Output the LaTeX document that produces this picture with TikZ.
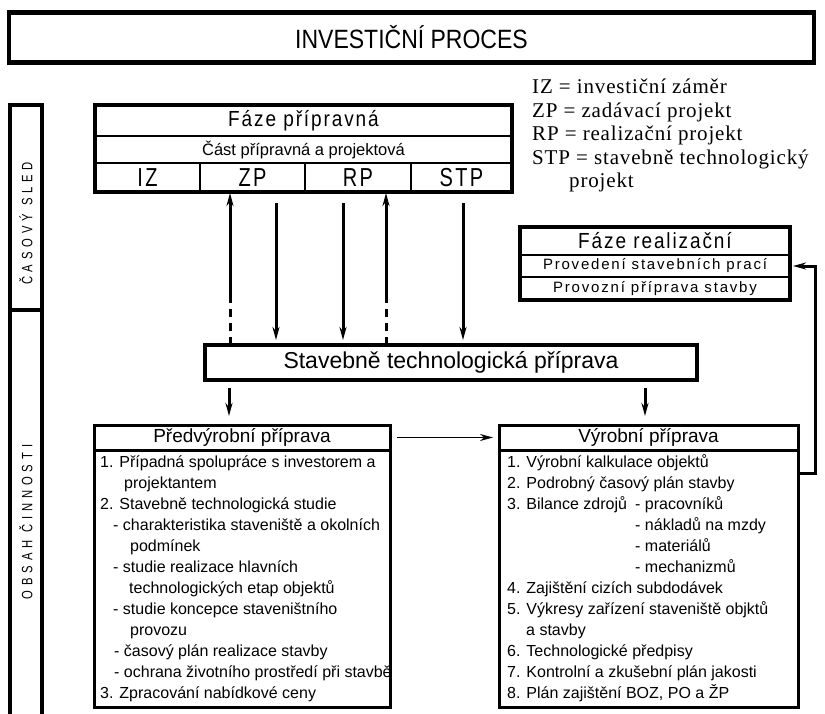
\documentclass[tikz,border=0pt]{standalone}
\usepackage{fontspec}
\setmainfont{Liberation Sans}
\newfontfamily\legendfont[LetterSpace=4]{Liberation Serif}
\newfontfamily\widefont[LetterSpace=10]{Liberation Sans}
\newfontfamily\rowfont[LetterSpace=12]{Liberation Sans}
\newfontfamily\sidefont[LetterSpace=43]{Liberation Sans}
\usetikzlibrary{arrows.meta, positioning, calc}

\tikzset{
  frame/.style={draw, line width=4.5pt, outer sep=0pt},
  cell/.style={draw, line width=2pt, inner sep=0pt, outer sep=0pt},
  flow/.style={line width=3pt, -{Stealth[length=13pt,width=7pt]}},
  bodytext/.style={align=left, inner sep=0pt, font=\fontsize{16}{21}\selectfont},
}

\begin{document}
\begin{tikzpicture}[x=1pt, y=-1pt]
\useasboundingbox (0,0) rectangle (825,713);

% Title
\node[frame, minimum width=805pt, minimum height=50pt, font=\fontsize{23}{27}\selectfont] (title) at (411.5,37.5) {\scalebox{1}[1.15]{INVESTIČNÍ PROCES}};

% Side bar
\node[cell, line width=3.5pt, minimum width=32pt, minimum height=205pt] (sled) at (26,207.5) {};
\node[cell, line width=3.5pt, minimum width=32pt, minimum height=410pt, below=0pt of sled] (obsah) {};
\node[rotate=90, font=\sidefont\fontsize{15}{17}\selectfont] (sledtext) at ([yshift=-16pt]sled.center) {\scalebox{0.75}[1]{ČASOVÝ SLED}};
\node[rotate=90, font=\sidefont\fontsize{15}{17}\selectfont] (obsahtext) at (26,522) {\scalebox{0.75}[1]{OBSAH ČINNOSTI}};

% Faze pripravna
\node[cell, anchor=north west, minimum width=417pt, minimum height=31pt, font=\widefont\fontsize{19}{22}\selectfont] (fp) at (95,105) {\scalebox{1}[1.15]{Fáze přípravná}};
\node[cell, minimum width=417pt, minimum height=27pt, below=0pt of fp, font=\fontsize{16.5}{19}\selectfont] (cast) {Část přípravná a projektová};
\node[cell, anchor=north west, minimum width=105pt, minimum height=29pt, font=\rowfont\fontsize{20}{22}\selectfont] (iz) at (cast.south west) {\scalebox{1}[1.3]{IZ}};
\node[cell, minimum width=105pt, minimum height=29pt, right=0pt of iz, font=\rowfont\fontsize{20}{22}\selectfont] (zp) {\scalebox{1}[1.3]{ZP}};
\node[cell, minimum width=106pt, minimum height=29pt, right=0pt of zp, font=\rowfont\fontsize{20}{22}\selectfont] (rp) {\scalebox{1}[1.3]{RP}};
\node[cell, minimum width=101pt, minimum height=29pt, right=0pt of rp, font=\rowfont\fontsize{20}{22}\selectfont] (stp) {\scalebox{1}[1.3]{STP}};
\draw[line width=4.5pt] (fp.north west) rectangle (stp.south east);

% Legend
\node[anchor=north west, align=left, inner sep=0pt, font=\legendfont\fontsize{21}{23.5}\selectfont] (legend) at (532,79) {IZ = investiční záměr\\ZP = zadávací projekt\\RP = realizační projekt\\STP = stavebně technologický\\\hspace*{37pt}projekt};

% Faze realizacni
\node[cell, anchor=north west, minimum width=270pt, minimum height=28pt, font=\widefont\fontsize{19}{22}\selectfont] (fr) at (520,227) {\scalebox{1}[1.15]{Fáze realizační}};
\node[cell, minimum width=270pt, minimum height=22pt, below=0pt of fr, font=\rowfont\fontsize{15}{17}\selectfont] (prov) {Provedení stavebních prací};
\node[cell, minimum width=270pt, minimum height=23pt, below=0pt of prov, font=\rowfont\fontsize{15}{17}\selectfont] (pps) {Provozní příprava stavby};
\draw[line width=4.5pt] (fr.north west) rectangle (pps.south east);

% Stavebne technologicka priprava
\node[frame, minimum width=492pt, minimum height=35pt, font=\fontsize{23}{27}\selectfont] (stb) at (451,362.5) {Stavebně technologická příprava};

% Arrows between the phases
\coordinate (izup) at ([xshift=-22.5pt]zp.south);
\coordinate (rpup) at ([xshift=28pt]rp.south);
\foreach \c in {izup, rpup} {
  \draw[line width=3pt, dash pattern=on 8pt off 6pt] (\c |- stb.north) -- ++(0,-50) coordinate (\c-mid);
  \draw[flow, shorten >=1pt] (\c-mid) -- (\c);
}
\foreach \nm/\dx in {zp/23.5, rp/-15, stp/1.5} {
  \coordinate (\nm-down) at ([xshift=\dx pt, yshift=-11pt]\nm.south);
  \draw[flow, shorten >=5pt] (\nm-down) -- (\nm-down |- stb.north);
}

% Predvyrobni priprava
\node[cell, line width=3pt, anchor=north west, minimum width=296pt, minimum height=25pt, font=\fontsize{19}{22}\selectfont] (pv) at (94,425) {Předvýrobní příprava};
\node[cell, line width=3pt, minimum width=296pt, minimum height=257pt, below=0pt of pv] (pvbody) {};
\node[bodytext, anchor=west] (pvtext) at ([xshift=6pt]pvbody.west) {1. Případná spolupráce s investorem a\\
\hspace*{24pt}projektantem\\
2. Stavebně technologická studie\\
\hspace*{13pt}- charakteristika staveniště a okolních\\
\hspace*{30pt}podmínek\\
\hspace*{13pt}- studie realizace hlavních\\
\hspace*{29pt}technologických etap objektů\\
\hspace*{13pt}- studie koncepce staveništního\\
\hspace*{30pt}provozu\\
\hspace*{14pt}- časový plán realizace stavby\\
\hspace*{14pt}- ochrana životního prostředí při stavbě\\
3. Zpracování nabídkové ceny};

% Vyrobni priprava
\node[cell, line width=3pt, anchor=north west, minimum width=299pt, minimum height=25pt, font=\fontsize{19}{22}\selectfont] (vy) at (499,425) {Výrobní příprava};
\node[cell, line width=3pt, minimum width=299pt, minimum height=257pt, below=0pt of vy] (vybody) {};
\node[bodytext, anchor=west] (vytext) at ([xshift=8pt]vybody.west) {1. Výrobní kalkulace objektů\\
2. Podrobný časový plán stavby\\
\makebox[128pt][l]{3. Bilance zdrojů}- pracovníků\\
\hspace*{128pt}- nákladů na mzdy\\
\hspace*{128pt}- materiálů\\
\hspace*{128pt}- mechanizmů\\
4. Zajištění cizích subdodávek\\
5. Výkresy zařízení staveniště objktů\\
\hspace*{19pt}a stavby\\
6. Technologické předpisy\\
7. Kontrolní a zkušební plán jakosti\\
8. Plán zajištění BOZ, PO a ŽP};

% Arrows to the preparation boxes
\coordinate (pvin) at ([xshift=-13pt]pv.north);
\coordinate (vyin) at ([xshift=-3.5pt]vy.north);
\draw[flow, shorten <=8pt, shorten >=9pt] (pvin |- stb.south) -- (pvin);
\draw[flow, shorten <=8pt, shorten >=9pt] (vyin |- stb.south) -- (vyin);
\draw[flow, line width=1.8pt, shorten <=7pt, shorten >=6pt] (pv.east) -- (pv.east -| vy.west);

% Feedback to realization
\draw[flow, shorten >=3pt] ([yshift=-23pt]vy.south east) -- ++(17,0) |- (prov.east);

\end{tikzpicture}
\end{document}
